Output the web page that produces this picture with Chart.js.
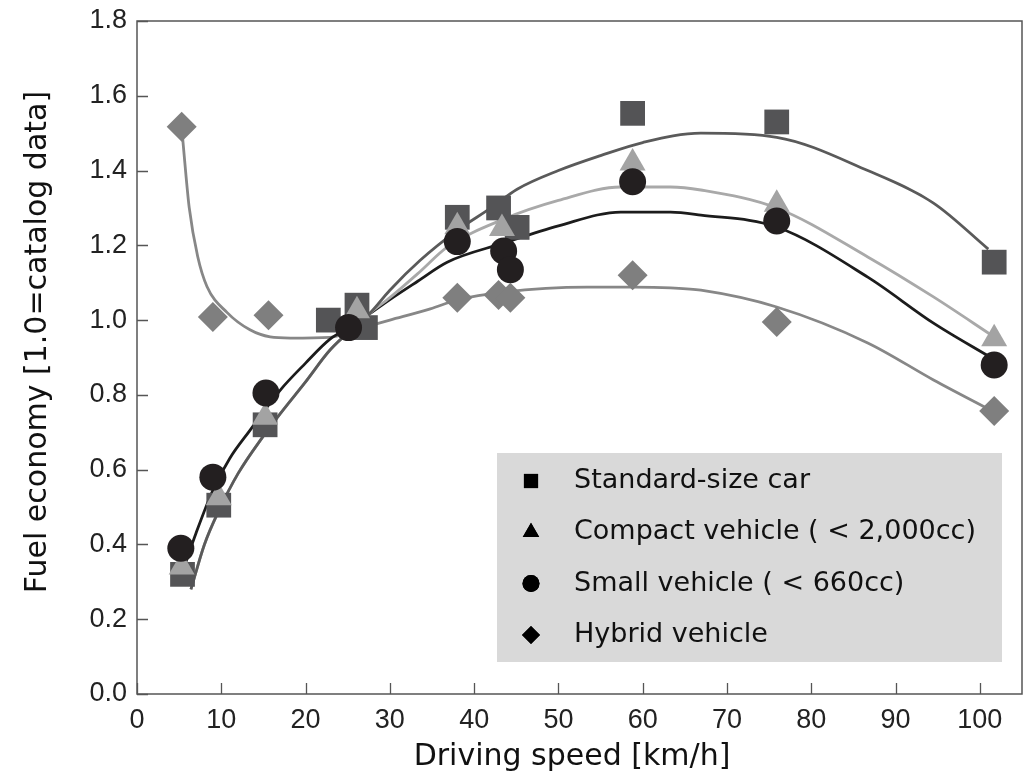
<!DOCTYPE html>
<html><head><meta charset="utf-8">
<script src="https://cdn.jsdelivr.net/npm/chart.js@4.4.1/dist/chart.umd.min.js"></script>
<style>html,body{margin:0;padding:0;background:#fff;}#wrap{width:1030px;height:776px;position:relative;}</style>
</head><body><div id="wrap"><canvas id="c" width="1030" height="776"></canvas></div>
<script>
// ---- data ----
const seriesNames = ['Standard-size car', 'Compact vehicle ( < 2,000cc)', 'Small vehicle ( < 660cc)', 'Hybrid vehicle'];
const xTitle = 'Driving speed [km/h]';
const yTitle = 'Fuel economy [1.0=catalog data]';
const yTickValues = [0, 0.2, 0.4, 0.6, 0.8, 1.0, 1.2, 1.4, 1.6, 1.8];
const xTickValues = [0, 10, 20, 30, 40, 50, 60, 70, 80, 90, 100];

// measured points
const stdX = [5.4, 9.7, 15.2, 22.7, 26.1, 27.1, 38.0, 42.9, 45.1, 58.8, 75.9, 101.7];
const stdY = [0.32, 0.505, 0.72, 1.00, 1.04, 0.98, 1.275, 1.30, 1.248, 1.553, 1.53, 1.155];
const cmpX = [5.3, 9.7, 15.2, 26.1, 38.0, 43.3, 58.8, 75.9, 101.7];
const cmpY = [0.34, 0.525, 0.74, 1.025, 1.25, 1.245, 1.42, 1.31, 0.95];
const smlX = [5.2, 9.0, 15.3, 25.1, 38.0, 43.5, 44.3, 58.8, 75.9, 101.7];
const smlY = [0.39, 0.58, 0.805, 0.98, 1.21, 1.185, 1.135, 1.37, 1.265, 0.88];
const hybX = [5.3, 9.0, 15.6, 38.0, 42.9, 44.3, 58.8, 75.9, 101.7];
const hybY = [1.517, 1.008, 1.013, 1.06, 1.067, 1.06, 1.12, 0.995, 0.757];

// fitted curves
const stdCurveX = [6.4, 8, 9.7, 12, 14.9, 17, 20, 22.9, 27.7, 30, 33.6, 38, 42, 45.1, 50, 55, 60, 66.9, 75.9, 86.7, 94.5, 101];
const stdCurveY = [0.28, 0.40, 0.49, 0.59, 0.687, 0.75, 0.835, 0.92, 1.02, 1.08, 1.16, 1.24, 1.30, 1.35, 1.40, 1.44, 1.475, 1.50, 1.489, 1.40, 1.313, 1.19];
const cmpCurveX = [6.4, 8, 9.7, 12, 14.9, 17, 20, 22.9, 27.7, 30, 33.6, 36.8, 43.5, 50, 57.4, 63.3, 66.9, 75.9, 86.7, 94.5, 101.7];
const cmpCurveY = [0.28, 0.40, 0.49, 0.59, 0.687, 0.75, 0.835, 0.92, 1.02, 1.06, 1.13, 1.195, 1.27, 1.32, 1.356, 1.356, 1.348, 1.30, 1.169, 1.062, 0.955];
const smlCurveX = [5.6, 7, 9, 11, 13.4, 17, 20, 22.9, 25.3, 30, 33.3, 36.8, 43.5, 50, 57.4, 63.3, 66.9, 75.9, 86.7, 94.5, 101.3];
const smlCurveY = [0.34, 0.43, 0.545, 0.63, 0.705, 0.813, 0.885, 0.949, 0.981, 1.055, 1.104, 1.155, 1.206, 1.252, 1.289, 1.289, 1.281, 1.249, 1.115, 0.992, 0.90];
const hybCurveX = [5.3, 5.6, 6.2, 7.2, 8.3, 10.7, 13.4, 15.8, 18.2, 22.9, 26.8, 30, 34.8, 38, 43.5, 53.4, 58.9, 63.3, 66.9, 75.9, 86.7, 94.5, 101.3];
const hybCurveY = [1.517, 1.44, 1.30, 1.17, 1.09, 1.02, 0.974, 0.955, 0.952, 0.954, 0.98, 1.0, 1.03, 1.054, 1.075, 1.088, 1.088, 1.086, 1.08, 1.035, 0.939, 0.84, 0.759];

const pts = (xs, ys) => xs.map((x, i) => ({x: x, y: ys[i]}));

const curveDs = (label, xs, ys, color) => ({
  label: label, data: pts(xs, ys), showLine: true, pointRadius: 0, pointHoverRadius: 0,
  borderColor: color, borderWidth: 2.8, cubicInterpolationMode: 'monotone', order: 10, fill: false
});
const markDs = (label, xs, ys, color, style, r, order) => ({
  label: label, data: pts(xs, ys), showLine: false, pointStyle: style, pointRadius: r,
  backgroundColor: color, borderColor: color, borderWidth: 0, order: order, clip: false
});

const legendItems = [
  {style: 'rect', r: 10},
  {style: 'triangle', r: 9.5},
  {style: 'circle', r: 8.5},
  {style: 'rectRot', r: 9}
];

const noPad = s => { s.paddingLeft = 0; s.paddingRight = 0; s.paddingTop = 0; s.paddingBottom = 0; };

const framePlugin = {
  id: 'frame',
  afterDatasetsDraw(chart) {
    const ctx = chart.ctx, a = chart.chartArea;
    const xs = chart.scales.x, ys = chart.scales.y;
    ctx.save();
    ctx.strokeStyle = '#555';
    ctx.lineWidth = 1.5;
    ctx.strokeRect(a.left, a.top, a.right - a.left, a.bottom - a.top);
    ctx.lineWidth = 1.3;
    ctx.beginPath();
    ys.ticks.forEach(t => {
      const p = Math.round(ys.getPixelForValue(t.value)) + 0.5;
      ctx.moveTo(a.left, p); ctx.lineTo(a.left + 11, p);
    });
    xs.ticks.forEach(t => {
      const p = Math.round(xs.getPixelForValue(t.value)) + 0.5;
      ctx.moveTo(p, a.bottom); ctx.lineTo(p, a.bottom - 11);
    });
    ctx.stroke();

    // legend
    ctx.fillStyle = '#d9d9d9';
    ctx.fillRect(497, 453, 505, 209);
    ctx.font = '27px "DejaVu Sans"';
    ctx.textBaseline = 'middle';
    ctx.textAlign = 'left';
    seriesNames.forEach((name, i) => {
      const y = 481 + i * 51.3;
      ctx.fillStyle = '#000';
      ctx.strokeStyle = '#000';
      Chart.helpers.drawPoint(ctx, {pointStyle: legendItems[i].style, radius: legendItems[i].r, rotation: 0, borderWidth: 0}, 531, y);
      ctx.fill();
      ctx.fillStyle = '#111';
      ctx.fillText(name, 574, y);
    });

    // axis titles
    ctx.fillStyle = '#111';
    ctx.font = '30px "DejaVu Sans"';
    ctx.textAlign = 'center';
    ctx.textBaseline = 'middle';
    ctx.fillText(xTitle, 572, 757);
    ctx.translate(38, 342);
    ctx.rotate(-Math.PI / 2);
    ctx.fillText(yTitle, 0, 0);
    ctx.restore();
  }
};

new Chart(document.getElementById('c'), {
  type: 'scatter',
  data: {
    datasets: [
      curveDs('std fit', stdCurveX, stdCurveY, '#5a5a5a'),
      curveDs('compact fit', cmpCurveX, cmpCurveY, '#a9a9a9'),
      curveDs('small fit', smlCurveX, smlCurveY, '#1c1c1c'),
      curveDs('hybrid fit', hybCurveX, hybCurveY, '#878787'),
      markDs(seriesNames[0], stdX, stdY, '#545456', 'rect', 17.5, 4),
      markDs(seriesNames[1], cmpX, cmpY, '#a3a3a3', 'triangle', 15, 3),
      markDs(seriesNames[2], smlX, smlY, '#231f20', 'circle', 13.5, 2),
      markDs(seriesNames[3], hybX, hybY, '#7f7f7f', 'rectRot', 15, 1)
    ]
  },
  options: {
    responsive: false,
    animation: false,
    layout: {autoPadding: false, padding: {top: 21, right: 8, left: 0, bottom: 0}},
    plugins: {legend: {display: false}, tooltip: {enabled: false}},
    scales: {
      x: {
        type: 'linear', min: 0, max: 105,
        afterFit: s => { s.height = 82; noPad(s); },
        afterBuildTicks: s => { s.ticks = xTickValues.map(v => ({value: v})); },
        grid: {display: false, drawTicks: false},
        border: {display: false},
        ticks: {
          includeBounds: false, stepSize: 10, padding: 10, color: '#222',
          font: {family: '"Liberation Sans", Arial, sans-serif', size: 27},
          maxRotation: 0, autoSkip: false
        }
      },
      y: {
        type: 'linear', min: 0, max: 1.8,
        afterFit: s => { s.width = 137; noPad(s); },
        afterBuildTicks: s => { s.ticks = yTickValues.map(v => ({value: v})); },
        grid: {display: false, drawTicks: false},
        border: {display: false},
        ticks: {
          stepSize: 0.2, padding: 10, color: '#222',
          font: {family: '"Liberation Sans", Arial, sans-serif', size: 27},
          callback: v => Number(v).toFixed(1), autoSkip: false
        }
      }
    }
  },
  plugins: [framePlugin]
});
</script>
</body></html>
